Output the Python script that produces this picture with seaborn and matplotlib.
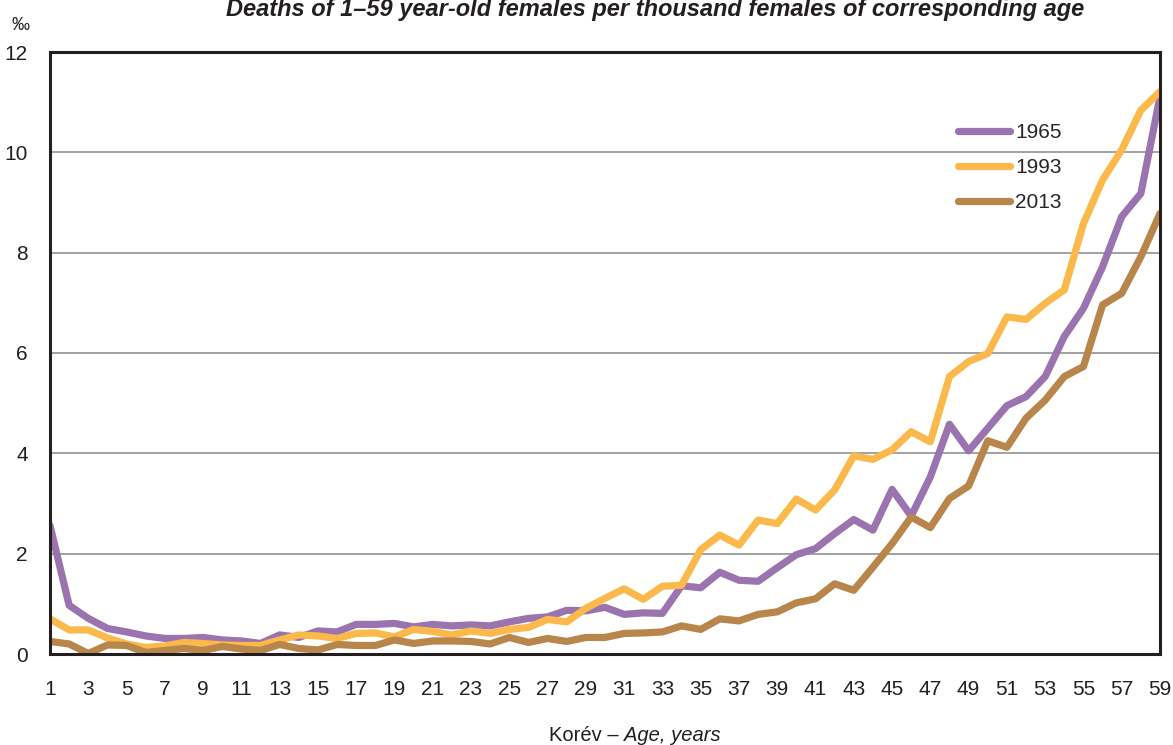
# coding: utf-8
import pandas as pd
import matplotlib
matplotlib.use('Agg')
import matplotlib.pyplot as plt
import seaborn as sns
from matplotlib import font_manager

# female deaths per thousand, by age
ages = list(range(1, 60))

deaths_1965 = [2.56, 0.97, 0.71, 0.51, 0.44, 0.36, 0.31, 0.31, 0.33, 0.28,
               0.26, 0.21, 0.38, 0.33, 0.46, 0.44, 0.59, 0.59, 0.61, 0.54,
               0.59, 0.56, 0.58, 0.56, 0.64, 0.71, 0.74, 0.87, 0.86, 0.93,
               0.79, 0.82, 0.81, 1.36, 1.32, 1.63, 1.47, 1.45, 1.72, 1.98,
               2.10, 2.40, 2.68, 2.47, 3.28, 2.75, 3.53, 4.58, 4.05, 4.50,
               4.95, 5.13, 5.53, 6.33, 6.89, 7.72, 8.72, 9.18, 11.11]

deaths_1993 = [0.70, 0.48, 0.48, 0.32, 0.20, 0.13, 0.16, 0.23, 0.21, 0.18,
               0.17, 0.17, 0.28, 0.38, 0.36, 0.31, 0.41, 0.42, 0.34, 0.49,
               0.45, 0.38, 0.46, 0.41, 0.49, 0.53, 0.69, 0.64, 0.91, 1.11,
               1.30, 1.09, 1.35, 1.37, 2.08, 2.37, 2.17, 2.67, 2.60, 3.09,
               2.87, 3.27, 3.95, 3.88, 4.07, 4.43, 4.23, 5.53, 5.83, 5.99,
               6.72, 6.67, 6.99, 7.26, 8.58, 9.45, 10.05, 10.84, 11.21]

deaths_2013 = [0.25, 0.20, 0.01, 0.18, 0.17, 0.03, 0.07, 0.11, 0.07, 0.15,
               0.10, 0.07, 0.19, 0.11, 0.08, 0.19, 0.17, 0.17, 0.28, 0.21,
               0.26, 0.26, 0.25, 0.20, 0.33, 0.23, 0.31, 0.25, 0.33, 0.33,
               0.41, 0.42, 0.44, 0.56, 0.49, 0.70, 0.66, 0.79, 0.84, 1.02,
               1.10, 1.40, 1.27, 1.73, 2.20, 2.73, 2.52, 3.10, 3.35, 4.25,
               4.12, 4.70, 5.06, 5.53, 5.73, 6.96, 7.19, 7.92, 8.78]

years = ['1965', '1993', '2013']
year_colors = ['#9b73ae', '#fbb94b', '#b8854a']

x_tick_labels = [str(a) if a % 2 == 1 else '' for a in ages]
y_ticks = [0, 2, 4, 6, 8, 10, 12]

title = 'Deaths of 1\u201359 year-old females per thousand females of corresponding age'
x_label_hu = 'Korév \u2013 '
x_label_en = 'Age, years'
y_unit = '\u2030'


def pick_font(names):
    '''
    return first installed family from names
    '''
    for name in names:
        try:
            font_manager.findfont(name, fallback_to_default=False)
            return name
        except ValueError:
            pass
    return 'DejaVu Sans'


def build_frame():
    df = pd.DataFrame({'age': ages * 3,
                       'deaths': deaths_1965 + deaths_1993 + deaths_2013,
                       'year': [y for y in years for _ in ages]})
    return df


def draw_chart(df):
    W, H = 1173, 745
    fig = plt.figure(figsize=(W / 100, H / 100), dpi=100)
    ax = fig.add_axes([50 / W, 1 - 654 / H, 1110 / W, 602 / H])

    ax.yaxis.grid(True, color='#9a9a9a', lw=1.3)
    ax.xaxis.grid(False)
    ax.set_axisbelow(True)

    sns.lineplot(data=df, x='age', y='deaths', hue='year', hue_order=years,
                 palette=year_colors, lw=5.2, solid_capstyle='round',
                 solid_joinstyle='round', ax=ax)

    ax.set_xlim(1, 59)
    ax.set_ylim(0, 12)
    ax.set_xticks(ages)
    ax.set_xticklabels(x_tick_labels)
    ax.set_yticks(y_ticks)
    ax.tick_params(axis='both', direction='out', length=10, width=2,
                   color='#231f20', labelsize=15, labelcolor='#231f20')
    ax.tick_params(axis='x', pad=9)
    ax.tick_params(axis='y', pad=6)
    for side in ['left', 'right', 'top', 'bottom']:
        ax.spines[side].set_visible(True)
        ax.spines[side].set_color('#231f20')
        ax.spines[side].set_linewidth(2.2)
    ax.set_xlabel('')
    ax.set_ylabel('')

    handles, labels = ax.get_legend_handles_labels()
    ax.legend(handles, labels, loc='upper left',
              bbox_to_anchor=(958 / W, 1 - 123 / H),
              bbox_transform=fig.transFigure, frameon=False,
              borderpad=0, borderaxespad=0, handlelength=2.5,
              handletextpad=0.25, labelspacing=0.78, fontsize=15)

    fig.text(655 / W, 1 - 16 / H, title, ha='center', va='baseline',
             fontsize=17, fontweight='bold', fontstyle='italic',
             color='#231f20')
    fig.text(20 / W, 1 - 25 / H, y_unit, ha='center', va='center',
             fontsize=13, color='#231f20')
    fig.text(624 / W, 1 - 741 / H, x_label_hu, ha='right', va='baseline',
             fontsize=14.5, color='#231f20')
    fig.text(624 / W, 1 - 741 / H, x_label_en, ha='left', va='baseline',
             fontsize=14.5, fontstyle='italic', color='#231f20')

    return fig


sns.set_style('white')
font_name = pick_font(['Liberation Sans Narrow', 'Liberation Sans', 'Arial'])
plt.rcParams['font.family'] = [font_name, 'DejaVu Sans']

fig = draw_chart(build_frame())
fig.savefig('out.png', dpi=100)
plt.close(fig)
